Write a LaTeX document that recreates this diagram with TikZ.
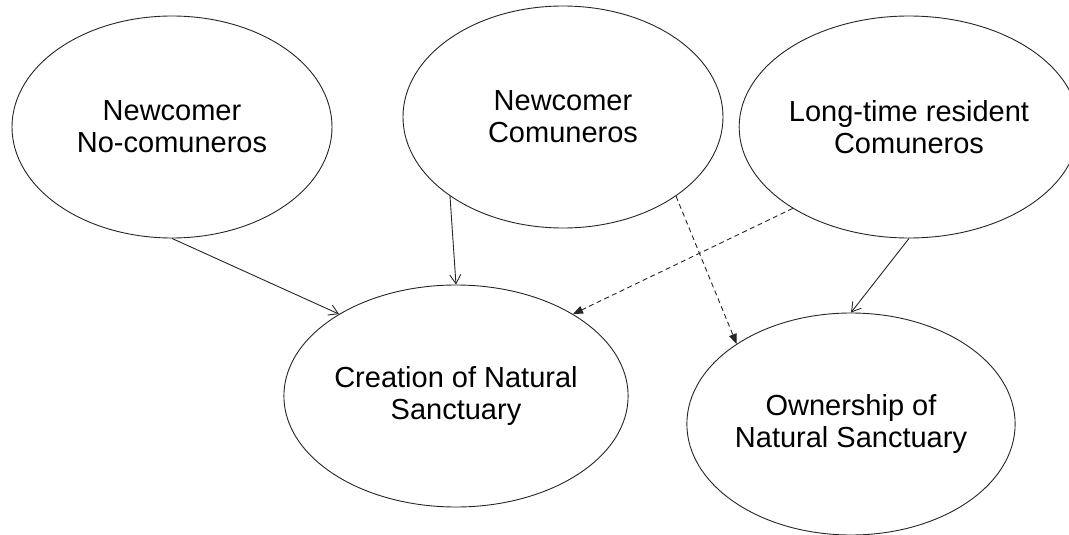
\documentclass[tikz,border=0pt]{standalone}
\usepackage{fontspec}
\setmainfont{Liberation Sans}
\usetikzlibrary{shapes.geometric,arrows.meta}

\tikzset{
  actor/.style={ellipse, draw=black!85, line width=0.9pt, fill=white,
    minimum width=320pt, minimum height=222pt, inner sep=0pt,
    align=center, font=\fontsize{29}{32}\selectfont},
  link/.style={draw=black!85, line width=0.9pt,
    -{Straight Barb[length=9pt,width=11pt,line width=0.9pt]}},
  weaklink/.style={draw=black!85, line width=0.9pt, dash pattern=on 5pt off 3.5pt,
    -{Triangle[length=10pt,width=8pt]}}
}

\begin{document}
\begin{tikzpicture}[x=1pt,y=-1pt]
  \useasboundingbox (0,0) rectangle (1069,535);

  % groups of residents
  \node[actor] (nonc) at (172,127) {Newcomer\\No-comuneros};
  \node[actor] (newc) at (563,117) {Newcomer\\Comuneros};
  \node[actor] (oldc) at (909,127) {Long-time resident\\Comuneros};

  % outcomes
  \node[actor] (create) at (456,396) {Creation of Natural\\Sanctuary};
  \node[actor] (own) at (851,424) {Ownership of\\Natural Sanctuary};

  % influences
  \draw[link] (nonc.270) -- (create.145);
  \draw[link] (newc.215) -- (create.90);
  \draw[link] (oldc.270) -- (own.90);
  \draw[weaklink] (oldc.215) -- (create.35);
  \draw[weaklink] (newc.325) -- (own.145);
\end{tikzpicture}
\end{document}
